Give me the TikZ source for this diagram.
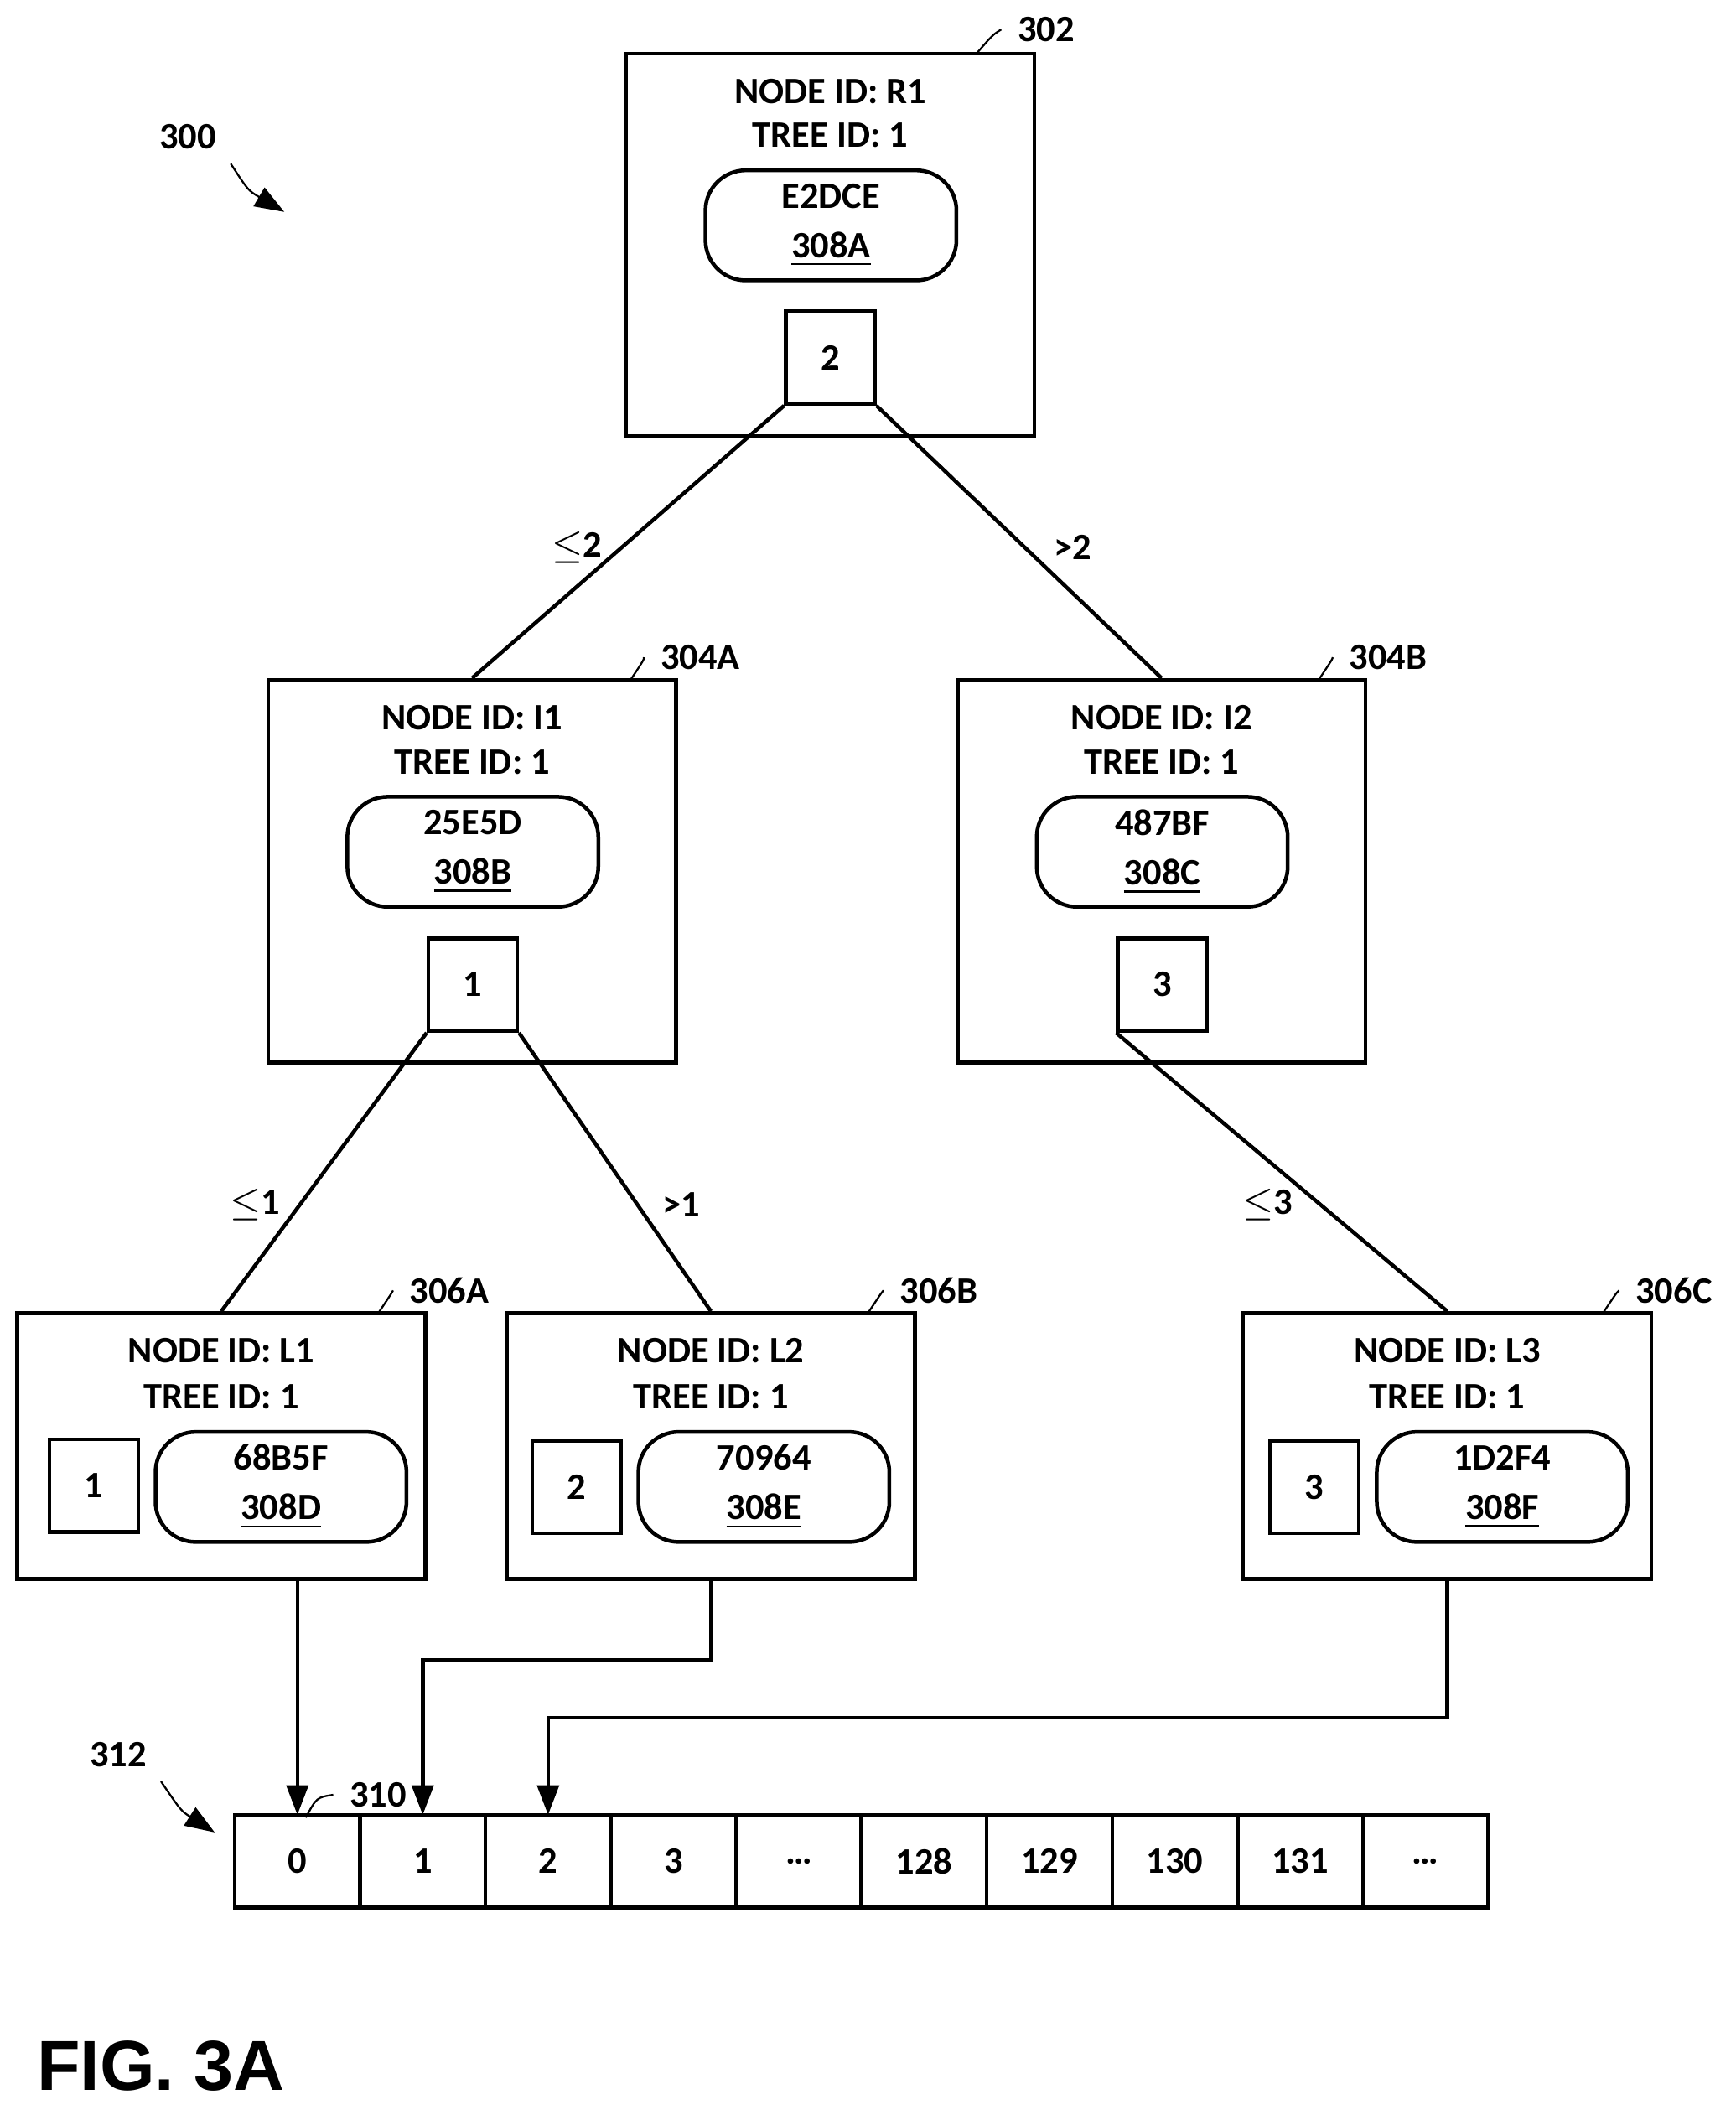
\documentclass[tikz,border=0pt]{standalone}
\usepackage{fontspec}
\setmainfont{Carlito}
\newfontfamily\figfont{Liberation Sans}
\usetikzlibrary{arrows.meta,positioning,calc}
\tikzset{
  every node/.append style={font=\fontsize{7.9}{9.5}\selectfont\bfseries},
  tnode/.style={draw, thick, minimum width=3.04cm, inner sep=0pt},
  hashbox/.style={draw, thick, rounded corners=0.3cm, minimum width=1.87cm, minimum height=0.82cm, align=center, inner sep=0pt},
  keybox/.style={draw, thick, minimum width=0.66cm, minimum height=0.69cm, inner sep=0pt},
  cell/.style={draw, thick, minimum width=0.934cm, minimum height=0.69cm, inner sep=0pt, outer sep=0pt},
  link/.style={thick},
  ptr/.style={thick, -{Triangle[length=0.22cm,width=0.16cm]}},
  lead/.style={thin}
}
\begin{document}
\begin{tikzpicture}[x=0.01cm, y=-0.01cm]
    \useasboundingbox (0,0) rectangle (1294,1573);
    % root node
    \node[tnode, minimum height=2.85cm] at (619,182.5) (r) {};
    \node at (619,68) (rid) {NODE ID: R1};
    \node at (619,101) (rtree) {TREE ID: 1};
    \node[hashbox] at (619.5,168) (rh) {E2DCE\\[1pt]\underline{308A}};
    \node[keybox] at (619,266.5) (rk) {2};
    % intermediate nodes
    \node[tnode, minimum height=2.85cm] at (352,649.5) (i1) {};
    \node at (352,535) (i1id) {NODE ID: I1};
    \node at (352,568) (i1tree) {TREE ID: 1};
    \node[hashbox] at (352.5,635) (i1h) {25E5D\\[1pt]\underline{308B}};
    \node[keybox] at (352.5,734) (i1k) {1};
    \node[tnode, minimum height=2.85cm] at (866,649.5) (i2) {};
    \node at (866,535) (i2id) {NODE ID: I2};
    \node at (866,568) (i2tree) {TREE ID: 1};
    \node[hashbox] at (866.5,635) (i2h) {487BF\\[1pt]\underline{308C}};
    \node[keybox] at (866.5,734) (i2k) {3};
    % leaf nodes
    \node[tnode, minimum height=1.98cm] at (165,1078) (l1) {};
    \node at (165,1007) (l1id) {NODE ID: L1};
    \node at (165,1041) (l1tree) {TREE ID: 1};
    \node[keybox] at (70,1107.5) (l1k) {1};
    \node[hashbox] at (209.5,1108.5) (l1h) {68B5F\\[1pt]\underline{308D}};
    \node[tnode, minimum height=1.98cm] at (530,1078) (l2) {};
    \node at (530,1007) (l2id) {NODE ID: L2};
    \node at (530,1041) (l2tree) {TREE ID: 1};
    \node[keybox] at (430,1108.5) (l2k) {2};
    \node[hashbox] at (569.5,1108.5) (l2h) {70964\\[1pt]\underline{308E}};
    \node[tnode, minimum height=1.98cm] at (1079,1078) (l3) {};
    \node at (1079,1007) (l3id) {NODE ID: L3};
    \node at (1079,1041) (l3tree) {TREE ID: 1};
    \node[keybox] at (980,1108.5) (l3k) {3};
    \node[hashbox] at (1120,1108.5) (l3h) {1D2F4\\[1pt]\underline{308F}};
    % tree links
    \draw[link] (rk.south west) -- (i1.north);
    \draw[link] (rk.south east) -- (i2.north);
    \draw[link] (i1k.south west) -- (l1.north);
    \draw[link] (i1k.south east) -- (l2.north);
    \draw[link] (i2k.south west) -- (l3.north);
    \node at (430,408) (le2) {$\leq$2};
    \node at (800,408) (gt2) {>2};
    \node at (190,898) (le1) {$\leq$1};
    \node at (508,898) (gt1) {>1};
    \node at (945,898) (le3) {$\leq$3};
    % array
    \node[cell] at (221.7,1387.5) (c0) {0};
    \foreach \v [count=\i from 1] in {1,2,3,\dots,128,129,130,131,\dots}{
        \pgfmathtruncatemacro\j{\i-1}
        \node[cell, right=0pt of c\j] (c\i) {\v};
    }
    \draw[ptr] (c0.north |- l1.south) -- (c0.north);
    \draw[ptr] (l2.south) -- ++(0,59) -| (c1.north);
    \draw[ptr] (l3.south) -- ++(0,102) -| (c2.north);
    % reference labels
    \node at (780,22) (n302) {302};
    \draw[lead] (728,40) .. controls (740,26) .. (n302.west);
    \node at (522,490) (n304a) {304A};
    \draw[lead] (470,507) .. controls (480,492) .. (n304a.west);
    \node at (1035,490) (n304b) {304B};
    \draw[lead] (983,507) .. controls (993,492) .. (n304b.west);
    \node at (335,962) (n306a) {306A};
    \draw[lead] (282,979) .. controls (292,964) .. (n306a.west);
    \node at (700,962) (n306b) {306B};
    \draw[lead] (647,979) .. controls (657,964) .. (n306b.west);
    \node at (1248,962) (n306c) {306C};
    \draw[lead] (1195,979) .. controls (1205,964) .. (n306c.west);
    \node at (282,1338) (n310) {310};
    \draw[lead] (228,1355) .. controls (236,1340) .. (n310.west);
    \node at (140,102) (n300) {300};
    \coordinate (a300) at (212,158);
    \draw[ptr, thin] (172,122) .. controls (185,142) .. (a300);
    \node at (88,1308) (n312) {312};
    \coordinate (a312) at (160,1366);
    \draw[ptr, thin] (120,1328) .. controls (135,1350) .. (a312);
    \node[font=\figfont\fontsize{15}{18}\selectfont\bfseries] at (120,1540) (fig) {FIG. 3A};
\end{tikzpicture}
\end{document}
